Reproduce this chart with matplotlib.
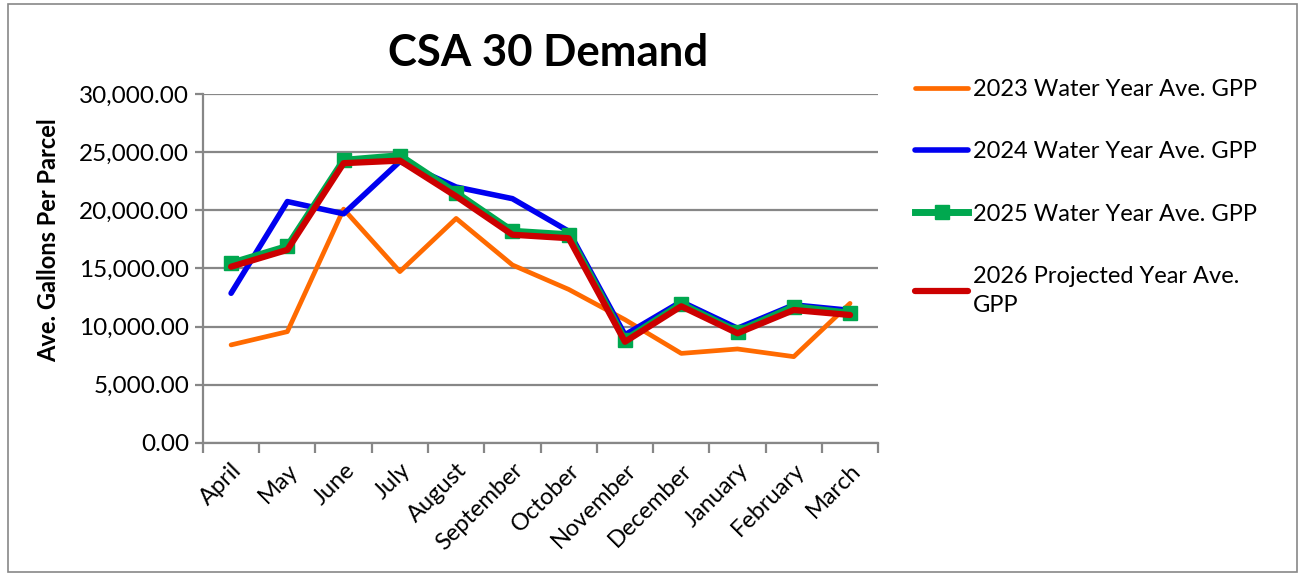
import numpy as np
import matplotlib.pyplot as plt
from matplotlib.patches import Rectangle
from matplotlib.ticker import FuncFormatter, MultipleLocator

plt.rcParams['font.family'] = ['Lato', 'DejaVu Sans']

# Data
months = ['April', 'May', 'June', 'July', 'August', 'September', 'October',
          'November', 'December', 'January', 'February', 'March']
gpp_2023 = [8430, 9570, 20100, 14730, 19300, 15300, 13200, 10600, 7700, 8080, 7420, 12000]
gpp_2024 = [12870, 20750, 19700, 24200, 22000, 21000, 18200, 9300, 12150, 9860, 11870, 11400]
gpp_2025 = [15450, 16900, 24300, 24700, 21500, 18200, 17900, 8850, 11950, 9570, 11720, 11150]
gpp_2026 = [15150, 16600, 24050, 24270, 21200, 17900, 17600, 8700, 11750, 9430, 11430, 11000]


def main():
    fig = plt.figure(figsize=(13.01, 5.75), dpi=100)
    ax = fig.add_axes([0.156, 0.2296, 0.519, 0.607])

    x = np.arange(len(months))
    ax.plot(x, gpp_2023, color='#FF6A00', lw=3.4, label='2023 Water Year Ave. GPP',
            solid_capstyle='round', zorder=3)
    ax.plot(x, gpp_2024, color='#0000F0', lw=4, label='2024 Water Year Ave. GPP',
            solid_capstyle='round', zorder=4)
    ax.plot(x, gpp_2025, color='#00A84F', lw=5, marker='s', markersize=10,
            label='2025 Water Year Ave. GPP', zorder=5)
    ax.plot(x, gpp_2026, color='#CC0000', lw=4.5, label='2026 Projected Year Ave.\nGPP',
            solid_capstyle='round', zorder=6)

    ax.set_xlim(-0.5, len(months) - 0.5)
    ax.set_ylim(0, 30000)
    ax.yaxis.set_major_locator(MultipleLocator(5000))
    ax.yaxis.set_major_formatter(FuncFormatter(lambda v, p: f'{v:,.2f}'))
    ax.grid(axis='y', color='#878787', lw=1.6, zorder=1)
    ax.set_axisbelow(True)

    ax.set_xticks(x)
    ax.set_xticklabels(months, rotation=45, ha='right', rotation_mode='anchor')
    ax.set_xticks(np.arange(-0.5, len(months)), minor=True)
    ax.tick_params(axis='x', which='major', length=0, pad=12, labelsize=17)
    ax.tick_params(axis='x', which='minor', length=7, width=1.6, color='#878787')
    ax.tick_params(axis='y', length=6, width=1.6, color='#878787', labelsize=17.5, pad=4)

    for s in ['top', 'right']:
        ax.spines[s].set_visible(False)
    for s in ['left', 'bottom']:
        ax.spines[s].set_color('#878787')
        ax.spines[s].set_linewidth(1.6)

    ax.set_ylabel('Ave. Gallons Per Parcel', fontsize=17, fontweight='bold')
    ax.yaxis.set_label_coords(-0.212, 0.58)
    fig.text(0.421, 0.908, 'CSA 30 Demand', fontsize=31.5, fontweight='bold',
             ha='center', va='center')

    leg = ax.legend(loc='upper left', bbox_to_anchor=(1.055, 1.043), frameon=False,
                    fontsize=17, handlelength=2.25, handletextpad=0.2, labelspacing=1.75,
                    borderaxespad=0, borderpad=0)
    for t in leg.get_texts():
        t.set_linespacing(1.45)

    fig.patches.append(Rectangle((0.006, 0.005), 0.991, 0.988, transform=fig.transFigure,
                                 fill=False, edgecolor='#878787', lw=1.2))

    fig.savefig('out.png', dpi=100)


if __name__ == "__main__":
    main()
